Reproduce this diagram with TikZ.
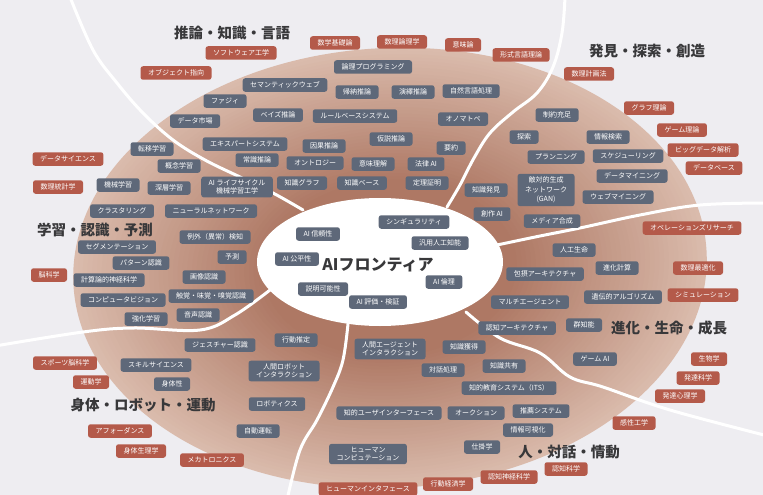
\documentclass[tikz,border=0pt]{standalone}
\usepackage{fontspec}
\setmainfont{Noto Sans CJK JP}
\definecolor{bg}{HTML}{EEEDF1}
\definecolor{gboxc}{HTML}{5E6879}
\definecolor{rboxc}{HTML}{B45A4A}
\definecolor{ttlc}{HTML}{38383A}
\definecolor{pc1}{HTML}{AE7864}
\definecolor{pc2}{HTML}{DABBAC}
\tikzset{
  box/.style={rounded corners=2.5pt, text=white, font=\fontsize{7}{8.5}\selectfont,
    inner xsep=7.5pt, inner ysep=3pt, minimum height=13.5pt, align=center},
  gb/.style={box, fill=gboxc},
  rb/.style={box, fill=rboxc},
  ttlstyle/.style={font=\fontsize{14.5}{16}\selectfont\bfseries, text=ttlc, inner sep=0pt},
  divider/.style={draw=white, line width=3pt, line cap=round},
}
\begin{document}
\begin{tikzpicture}[x=1pt,y=-1pt]
\useasboundingbox (0,0) rectangle (763,495);
\fill[bg] (0,0) rectangle (763,495);
\clip (0,0) rectangle (763,495);
% big ellipse, stepped radial gradient
\foreach \i in {0,...,40}{
  \pgfmathsetmacro{\s}{1-0.015*\i}
  \pgfmathtruncatemacro{\p}{100*\i/40}
  \fill[pc1!\p!pc2, rotate around={3:(390,268)}] (390,268) ellipse [x radius={317*\s}, y radius={220*\s}];
}
% inner ellipse
\fill[white] (380,262) ellipse [x radius=123, y radius=64];
% dividers
\draw[divider] plot[smooth, tension=0.6] coordinates {(70,-3) (93,50) (117,83) (143,113) (173,140) (205,160) (240,177) (273,193) (303,210)};
\draw[divider] plot[smooth, tension=0.6] coordinates {(565,-3) (562,33) (553,67) (537,93) (513,112) (490,133) (474,158) (460,185) (447,207)};
\draw[divider] plot[smooth, tension=0.6] coordinates {(497,245) (540,236) (580,228) (640,215) (700,205) (768,203)};
\draw[divider] plot[smooth, tension=0.6] coordinates {(466,312) (500,338) (540,353) (570,377) (603,387) (670,410) (768,436)};
\draw[divider] plot[smooth, tension=0.6] coordinates {(348,324) (343,360) (333,387) (317,420) (300,450) (287,500)};
\draw[divider] plot[smooth, tension=0.6] coordinates {(270,290) (235,315) (200,330) (133,328) (83,332) (-5,346)};
% red boxes
\node[rb] (swe) at (241,53) {ソフトウェア工学};
\node[rb] (mathfound) at (335,43) {数学基礎論};
\node[rb] (mathlogic) at (402,42) {数理論理学};
\node[rb] (semantics) at (463,45) {意味論};
\node[rb] (formallang) at (521,55) {形式言語理論};
\node[rb] (oop) at (176,73) {オブジェクト指向};
\node[rb] (mathprog) at (589,74) {数理計画法};
\node[rb] (graphth) at (649,108) {グラフ理論};
\node[rb] (gameth) at (682,130) {ゲーム理論};
\node[rb] (bigdata) at (703,150) {ビッグデータ解析};
\node[rb] (database) at (714,168) {データベース};
\node[rb] (datasci) at (68,159) {データサイエンス};
\node[rb] (mathstat) at (58,187) {数理統計学};
\node[rb] (orr) at (692,228) {オペレーションズリサーチ};
\node[rb] (mathopt) at (698,268) {数理最適化};
\node[rb] (simul) at (703,295) {シミュレーション};
\node[rb] (brain) at (49,275) {脳科学};
\node[rb] (sportsbrain) at (65,363) {スポーツ脳科学};
\node[rb] (kinesiology) at (91,382) {運動学};
\node[rb] (biology) at (709,359) {生物学};
\node[rb] (devsci) at (698,378) {発達科学};
\node[rb] (devpsy) at (680,396) {発達心理学};
\node[rb] (kansei) at (634,423) {感性工学};
\node[rb] (affordance) at (120,431) {アフォーダンス};
\node[rb] (bodyphys) at (141,451) {身体生理学};
\node[rb] (mechatronics) at (212,460) {メカトロニクス};
\node[rb] (cogsci) at (566,469) {認知科学};
\node[rb] (cogneuro) at (509,477) {認知神経科学};
\node[rb] (behecon) at (448,484) {行動経済学};
\node[rb] (hi) at (368,489) {ヒューマンインタフェース};
% gray boxes: reasoning
\node[gb] (logicprog) at (373,67) {論理プログラミング};
\node[gb] (semweb) at (285,85) {セマンティックウェブ};
\node[gb] (induct) at (357,92) {帰納推論};
\node[gb] (deduct) at (413,92) {演繹推論};
\node[gb] (nlp) at (471,91) {自然言語処理};
\node[gb] (fuzzy) at (225,101) {ファジィ};
\node[gb] (bayes) at (278,115) {ベイズ推論};
\node[gb] (rulebase) at (355,116) {ルールベースシステム};
\node[gb] (onomato) at (463,119) {オノマトペ};
\node[gb] (datamarket) at (195,121) {データ市場};
\node[gb] (expert) at (245,144) {エキスパートシステム};
\node[gb] (causal) at (324,146) {因果推論};
\node[gb] (abduct) at (391,139) {仮説推論};
\node[gb] (summ) at (451,148) {要約};
\node[gb] (transfer) at (152,149) {転移学習};
\node[gb] (common) at (257,160) {常識推論};
\node[gb] (ontology) at (315,163) {オントロジー};
\node[gb] (understand) at (373,164) {意味理解};
\node[gb] (lawai) at (426,164) {法律 AI};
\node[gb] (concept) at (179,166) {概念学習};
\node[gb] (kgraph) at (302,183) {知識グラフ};
\node[gb] (kbase) at (362,183) {知識ベース};
\node[gb] (theorem) at (427,183) {定理証明};
% discovery
\node[gb] (constraint) at (557,115) {制約充足};
\node[gb] (search) at (524,137) {探索};
\node[gb] (ir) at (608,137) {情報検索};
\node[gb] (planning) at (556,157) {プランニング};
\node[gb] (sched) at (628,156) {スケジューリング};
\node[gb] (datamining) at (632,176) {データマイニング};
\node[gb] (kdisc) at (486,190) {知識発見};
\node[gb,font=\fontsize{7}{9.5}\selectfont] (gan) at (546,190) {敵対的生成\\ネットワーク\\(GAN)};
\node[gb] (webmining) at (618,197) {ウェブマイニング};
\node[gb] (creative) at (492,214) {創作 AI};
\node[gb] (media) at (552,221) {メディア合成};
% learning
\node[gb] (ml) at (118,185) {機械学習};
\node[gb] (dl) at (169,188) {深層学習};
\node[gb] (lifecycle) at (237,187) {AI ライフサイクル\\機械学習工学};
\node[gb] (cluster) at (122,211) {クラスタリング};
\node[gb] (nn) at (211,211) {ニューラルネットワーク};
\node[gb] (anomaly) at (215,237) {例外（異常）検知};
\node[gb] (segment) at (117,247) {セグメンテーション};
\node[gb] (predict) at (232,257) {予測};
\node[gb] (pattern) at (141,263) {パターン認識};
\node[gb] (image) at (204,277) {画像認識};
\node[gb] (compneuro) at (109,280) {計算論的神経科学};
\node[gb] (touch) at (211,296) {触覚・味覚・嗅覚認識};
\node[gb] (cv) at (123,300) {コンピュータビジョン};
\node[gb] (speech) at (198,315) {音声認識};
\node[gb] (rl) at (146,319) {強化学習};
% center
\node[gb] (trust) at (318,234) {AI 信頼性};
\node[gb] (fair) at (297,259) {AI 公平性};
\node[gb] (explain) at (323,289) {説明可能性};
\node[gb] (evalv) at (378,302) {AI 評価・検証};
\node[gb] (singular) at (414,222) {シンギュラリティ};
\node[gb] (agi) at (440,243) {汎用人工知能};
\node[gb] (ethics) at (444,282) {AI 倫理};
% evolution
\node[gb] (alife) at (574,250) {人工生命};
\node[gb] (evocomp) at (617,268) {進化計算};
\node[gb] (subsump) at (545,274) {包摂アーキテクチャ};
\node[gb] (ga) at (623,297) {遺伝的アルゴリズム};
\node[gb] (multiagent) at (530,302) {マルチエージェント};
\node[gb] (cogarch) at (517,328) {認知アーキテクチャ};
\node[gb] (swarm) at (584,325) {群知能};
\node[gb] (gameai) at (595,359) {ゲーム AI};
% body
\node[gb] (gesture) at (220,345) {ジェスチャー認識};
\node[gb] (behavior) at (296,340) {行動推定};
\node[gb] (skill) at (156,365) {スキルサイエンス};
\node[gb] (hri) at (284,371) {人間ロボット\\インタラクション};
\node[gb] (embodi) at (172,384) {身体性};
\node[gb] (robotics) at (277,404) {ロボティクス};
\node[gb] (autodrive) at (258,431) {自動運転};
% human
\node[gb] (hai) at (390,349) {人間エージェント\\インタラクション};
\node[gb] (kacq) at (464,347) {知識獲得};
\node[gb] (dialog) at (443,370) {対話処理};
\node[gb] (kshare) at (504,366) {知識共有};
\node[gb] (its) at (509,388) {知的教育システム（ITS）};
\node[gb] (iui) at (389,413) {知的ユーザインターフェース};
\node[gb] (auction) at (476,413) {オークション};
\node[gb] (recsys) at (541,411) {推薦システム};
\node[gb] (infovis) at (528,430) {情報可視化};
\node[gb] (shikake) at (482,447) {仕掛学};
\node[gb] (hcomp) at (368,454) {ヒューマン\\コンピュテーション};
% titles
\node[ttlstyle] (t1) at (232,33) {推論・知識・言語};
\node[ttlstyle] (t2) at (647,51) {発見・探索・創造};
\node[ttlstyle] (t3) at (95,230) {学習・認識・予測};
\node[ttlstyle] (t4) at (669,328) {進化・生命・成長};
\node[ttlstyle] (t5) at (143,405) {身体・ロボット・運動};
\node[ttlstyle] (t6) at (569,452) {人・対話・情動};
\node[ttlstyle, font=\fontsize{16}{18}\selectfont\bfseries] (center) at (378,265) {AIフロンティア};
\end{tikzpicture}
\end{document}
